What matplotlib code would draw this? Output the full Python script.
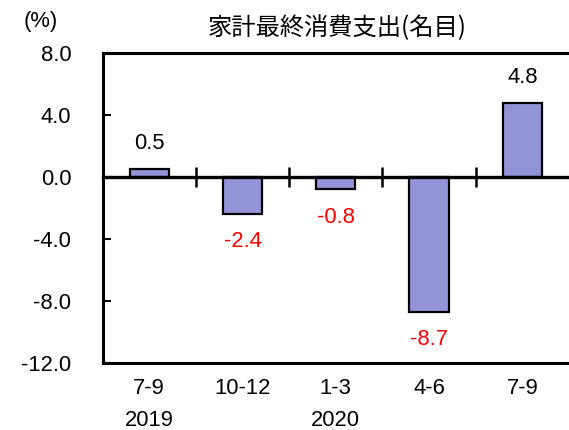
import matplotlib
matplotlib.use("Agg")
import matplotlib.pyplot as plt
import matplotlib.transforms as mtransforms

categories = ["7-9", "10-12", "1-3", "4-6", "7-9"]
years = ["2019", "", "2020", "", ""]
values = [0.5, -2.4, -0.8, -8.7, 4.8]
yticks = [-12.0, -8.0, -4.0, 0.0, 4.0, 8.0]
title = "家計最終消費支出(名目)"
unit = "(%)"

plt.rcParams['font.family'] = ['Liberation Sans', 'DejaVu Sans']
FS = 15.8

fig = plt.figure(figsize=(5.69, 4.30), dpi=100)
ax = fig.add_axes([102.5 / 569, (430 - 362.7) / 430, (569 - 102.5) / 569, (362.7 - 53.3) / 430])

x = list(range(len(values)))
ax.bar(x, values, width=0.42, color='#9393D7', edgecolor='black', linewidth=1.6, zorder=2)

ax.set_xlim(-0.5, len(values) - 0.5)
ax.set_ylim(min(yticks), max(yticks))

# spines
ax.spines['right'].set_visible(False)
ax.spines['top'].set_linewidth(2.2)
ax.spines['left'].set_linewidth(2.2)
ax.spines['bottom'].set_position(('data', 0))
ax.spines['bottom'].set_linewidth(2.4)
ax.spines['bottom'].set_zorder(3)
ax.axhline(min(yticks), color='black', lw=2.2, clip_on=False, zorder=3)

# y ticks
ax.set_yticks(yticks)
ax.set_yticklabels([f"{v:.1f}" for v in yticks], fontsize=FS)
ax.tick_params(axis='y', direction='in', length=6, width=1.5, pad=22.5)

# x ticks at category boundaries on the zero line
ax.set_xticks([i + 0.5 for i in x[:-1]])
ax.tick_params(axis='x', direction='inout', length=14, width=1.8, labelbottom=False)

# category labels
trans = mtransforms.blended_transform_factory(ax.transData, ax.transAxes)
for i, (c, yr) in enumerate(zip(categories, years)):
    ax.annotate(c, xy=(i, 0), xycoords=trans, xytext=(0, -18.5), textcoords='offset points',
                ha='center', va='center', fontsize=FS)
    if yr:
        ax.annotate(yr, xy=(i, 0), xycoords=trans, xytext=(0, -41.5), textcoords='offset points',
                    ha='center', va='center', fontsize=FS)

# value labels
for i, v in enumerate(values):
    off = 18.5 if v >= 0 else -20
    ax.annotate(f"{v:.1f}", xy=(i, v), xytext=(0, off), textcoords='offset points',
                ha='center', va='center', fontsize=FS,
                color='black' if v >= 0 else '#FF0000')

fig.text(41 / 569, 1 - 22 / 430, unit, ha='center', va='center', fontsize=FS)
fig.text(337.5 / 569, 1 - 28 / 430, title, ha='center', va='center', fontsize=17.5,
         family=['Noto Sans CJK JP', 'DejaVu Sans'])

fig.savefig("out.png", dpi=100)
